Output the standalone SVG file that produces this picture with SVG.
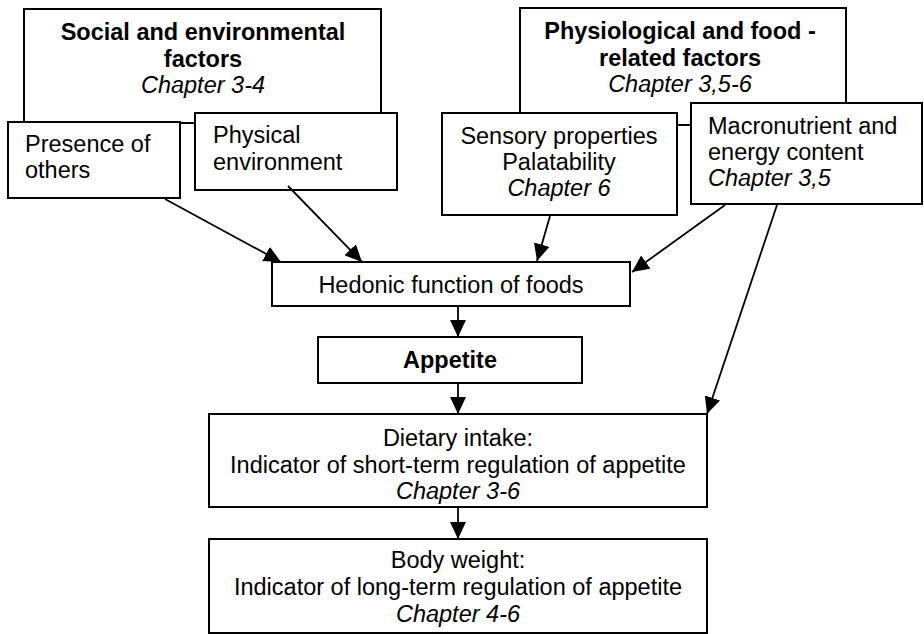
<svg xmlns="http://www.w3.org/2000/svg" width="924" height="634" viewBox="0 0 924 634">
<style>
.box{fill:#fff;stroke:#000;stroke-width:2}
.t{font-family:"Liberation Sans",Arial,sans-serif;font-size:23.5px;fill:#000}
.b{font-weight:bold}
.i{font-style:italic}
.c{text-anchor:middle}
.ln{stroke:#000;stroke-width:1.8;fill:none}
</style>
<defs>
<marker id="ah" markerUnits="userSpaceOnUse" markerWidth="18" markerHeight="16" viewBox="0 0 18 16" refX="17" refY="8" orient="auto">
<path d="M0,0 L17,8 L0,16 Z" fill="#000"/>
</marker>
</defs>
<rect width="924" height="634" fill="#fff"/>
<g id="social">
<rect class="box" x="24" y="9" width="357" height="114"/>
<text class="t b c" x="203" y="40">Social and environmental</text>
<text class="t b c" x="203" y="67">factors</text>
<text class="t i c" x="203" y="93">Chapter 3-4</text>
</g>
<g id="physiological">
<rect class="box" x="520" y="8" width="326" height="117"/>
<text class="t b c" x="680" y="39">Physiological and food -</text>
<text class="t b c" x="680" y="66">related factors</text>
<text class="t i c" x="680" y="92">Chapter 3,5-6</text>
</g>
<g id="presence">
<rect class="box" x="8" y="122" width="172" height="76"/>
<text class="t" x="25" y="152">Presence of</text>
<text class="t" x="25" y="178">others</text>
</g>
<g id="physical">
<rect class="box" x="195" y="113" width="202" height="77"/>
<text class="t" x="213" y="143">Physical</text>
<text class="t" x="213" y="170">environment</text>
</g>
<g id="sensory">
<rect class="box" x="442" y="113" width="235" height="102"/>
<text class="t c" x="559" y="144">Sensory properties</text>
<text class="t c" x="559" y="170">Palatability</text>
<text class="t i c" x="559" y="196">Chapter 6</text>
</g>
<g id="macronutrient">
<rect class="box" x="691" y="103" width="231" height="101"/>
<text class="t" x="708" y="134">Macronutrient and</text>
<text class="t" x="708" y="160">energy content</text>
<text class="t i" x="708" y="186">Chapter 3,5</text>
</g>
<g id="hedonic">
<rect class="box" x="272" y="262" width="358" height="44"/>
<text class="t c" x="451" y="293">Hedonic function of foods</text>
</g>
<g id="appetite">
<rect class="box" x="318" y="337" width="264" height="46"/>
<text class="t b c" x="450" y="368">Appetite</text>
</g>
<g id="dietary">
<rect class="box" x="209" y="414" width="498" height="93"/>
<text class="t c" x="458" y="446">Dietary intake:</text>
<text class="t c" x="458" y="473">Indicator of short-term regulation of appetite</text>
<text class="t i c" x="458" y="499">Chapter 3-6</text>
</g>
<g id="bodyweight">
<rect class="box" x="209" y="539" width="498" height="94"/>
<text class="t c" x="458" y="568">Body weight:</text>
<text class="t c" x="458" y="595">Indicator of long-term regulation of appetite</text>
<text class="t i c" x="458" y="622">Chapter 4-6</text>
</g>
<g id="connectors">
<line class="ln" x1="165" y1="199" x2="281" y2="262" marker-end="url(#ah)"/>
<line class="ln" x1="288" y1="186" x2="362" y2="262" marker-end="url(#ah)"/>
<line class="ln" x1="550" y1="216" x2="537" y2="261" marker-end="url(#ah)"/>
<line class="ln" x1="725" y1="205" x2="632" y2="272" marker-end="url(#ah)"/>
<line class="ln" x1="458" y1="306" x2="458" y2="337" marker-end="url(#ah)"/>
<line class="ln" x1="458" y1="383" x2="458" y2="414" marker-end="url(#ah)"/>
<line class="ln" x1="458" y1="507" x2="458" y2="539" marker-end="url(#ah)"/>
<line class="ln" x1="777" y1="205" x2="707" y2="414" marker-end="url(#ah)"/>
</g>
</svg>
